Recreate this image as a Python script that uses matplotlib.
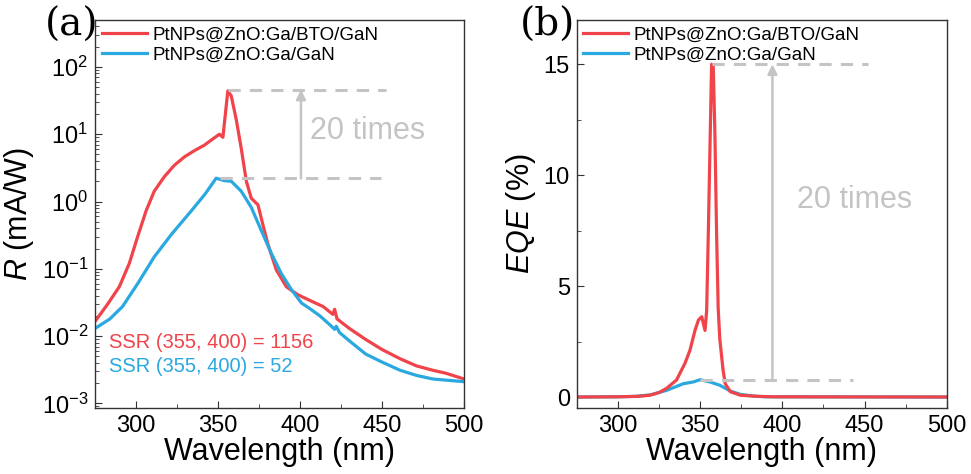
import matplotlib
matplotlib.use("Agg")
import matplotlib.pyplot as plt

plt.rcParams['font.family'] = ['Liberation Sans', 'DejaVu Sans']
plt.rcParams['mathtext.fontset'] = 'custom'
plt.rcParams['mathtext.rm'] = 'Liberation Sans'
plt.rcParams['mathtext.it'] = 'Liberation Sans:italic'

RED = '#f0434a'
BLUE = '#2aa8e0'
GRAY = '#c4c4c4'
labels = ['PtNPs@ZnO:Ga/BTO/GaN', 'PtNPs@ZnO:Ga/GaN']

# (a) responsivity, mA/W
wl_r_red = [275, 282.5, 289.7, 295.8, 300.9, 306, 311, 317.2, 323.3, 329.4, 335.5, 341.7,
            346.7, 350.8, 352.9, 355.9, 358, 361, 364.1, 367.2, 370.2, 374.3, 377.3,
            380.4, 385.5, 391.6, 398.7, 406.9, 414, 420, 421, 422.5, 430, 440, 450, 461,
            471, 481, 489, 500]
r_red = [0.0166, 0.0296, 0.054, 0.12, 0.30, 0.72, 1.42, 2.34, 3.46, 4.6, 5.7, 6.9,
         8.5, 10, 9.0, 44, 37, 16.7, 6.1, 2.0, 1.12, 0.89, 0.45,
         0.23, 0.096, 0.054, 0.041, 0.033, 0.0275, 0.021, 0.025, 0.018, 0.013, 0.0089, 0.0063, 0.0046,
         0.0036, 0.0031, 0.0028, 0.0023]

wl_r_blue = [275, 284, 291.7, 300.9, 311, 321.3, 333.5, 341.7, 348.8, 353.9, 358, 364.1,
             370.2, 376.3, 382.4, 388.5, 394.7, 400.8, 406, 412, 418, 421, 422, 424, 430,
             440, 450, 461, 471, 481, 500]
r_blue = [0.013, 0.018, 0.0275, 0.06, 0.15, 0.32, 0.72, 1.26, 2.22, 2.04, 2.0, 1.42,
          0.82, 0.37, 0.17, 0.085, 0.049, 0.031, 0.0255, 0.02, 0.0148, 0.0126, 0.014, 0.0113, 0.0085,
          0.0054, 0.0041, 0.0031, 0.0026, 0.0023, 0.0021]

# (b) EQE, %
wl_e_red = [275, 300, 312, 319.4, 325, 329.6, 335.7, 340.8, 343.8, 346.9, 349, 351, 353,
            354, 355, 357, 358, 359, 360, 361, 362, 363, 364, 365.3, 368.4, 374.5, 385, 395, 500]
eqe_red = [0.0, 0.01, 0.03, 0.08, 0.2, 0.39, 0.77, 1.52, 2.1, 3.0, 3.47, 3.62, 3.0,
           3.9, 7.4, 15.0, 14.9, 11.9, 7.5, 4.0, 2.6, 1.9, 1.2, 0.6, 0.24, 0.08, 0.03, 0.01, 0.0]

wl_e_blue = [275, 300, 311, 320, 329.6, 339.8, 345.9, 350, 356, 362, 368.4, 374.5,
             382.6, 390, 500]
eqe_blue = [0.0, 0.01, 0.03, 0.1, 0.3, 0.6, 0.68, 0.78, 0.68, 0.53, 0.27, 0.12,
            0.04, 0.01, 0.0]

fig = plt.figure(figsize=(9.71, 4.74), dpi=100)
ax1 = fig.add_axes([0.098, 0.139, 0.380, 0.819])
ax2 = fig.add_axes([0.594, 0.139, 0.381, 0.819])

for ax in (ax1, ax2):
    for s in ax.spines.values():
        s.set_color('#333333')
        s.set_linewidth(1.0)
    ax.tick_params(which='both', direction='in', color='#333333', labelsize=17, pad=5)
    ax.tick_params(which='major', length=5)
    ax.tick_params(which='minor', length=3)
    ax.set_xlim(275, 500)
    ax.set_xticks([300, 350, 400, 450, 500])
    ax.set_xticks([325, 375, 425, 475], minor=True)
    ax.set_xlabel('Wavelength (nm)', fontsize=22, labelpad=0)

# panel (a)
ax1.semilogy(wl_r_red, r_red, color=RED, lw=2.3, label=labels[0])
ax1.semilogy(wl_r_blue, r_blue, color=BLUE, lw=2.3, label=labels[1])
ax1.set_ylim(8.5e-4, 5e2)
ax1.set_yticks([1e-3, 1e-2, 1e-1, 1e0, 1e1, 1e2])
ax1.set_ylabel('$R$ (mA/W)', fontsize=22, labelpad=4)
ax1.plot([356, 452.5], [46, 46], color=GRAY, lw=2.2, ls=(0, (4, 3)))
ax1.plot([351, 449], [2.2, 2.2], color=GRAY, lw=2.2, ls=(0, (4, 3)))
ax1.annotate('', xy=(400.5, 46), xytext=(400.5, 2.2),
             arrowprops=dict(arrowstyle='-|>', color=GRAY, lw=1.8, mutation_scale=14,
                             shrinkA=0, shrinkB=0))
ax1.text(441, 11, '20 times', color=GRAY, fontsize=22, ha='center', va='center')
ax1.text(283.5, 0.0079, 'SSR (355, 400) = 1156', color=RED, fontsize=14.5, va='center')
ax1.text(283.5, 0.0035, 'SSR (355, 400) = 52', color=BLUE, fontsize=14.5, va='center')
ax1.legend(loc='upper left', bbox_to_anchor=(0.0, 1.0), frameon=False, fontsize=13.5,
           handlelength=2.4, handletextpad=0.3, labelspacing=0.15, borderaxespad=0.15,
           borderpad=0.2)

# panel (b)
ax2.plot(wl_e_blue, eqe_blue, color=BLUE, lw=2.3, label=labels[1])
ax2.plot(wl_e_red, eqe_red, color=RED, lw=2.3, label=labels[0])
ax2.set_ylim(-0.5, 17)
ax2.set_yticks([0, 5, 10, 15])
ax2.set_yticks([2.5, 7.5, 12.5], minor=True)
ax2.set_ylabel('$EQE$ (%)', fontsize=22, labelpad=4)
ax2.plot([357, 452], [15, 15], color=GRAY, lw=2.2, ls=(0, (4, 3)))
ax2.plot([350, 443], [0.78, 0.78], color=GRAY, lw=2.2, ls=(0, (4, 3)))
ax2.annotate('', xy=(394, 15), xytext=(394, 0.78),
             arrowprops=dict(arrowstyle='-|>', color=GRAY, lw=1.8, mutation_scale=14,
                             shrinkA=0, shrinkB=0))
ax2.text(444, 8.9, '20 times', color=GRAY, fontsize=22, ha='center', va='center')
h, l = ax2.get_legend_handles_labels()
ax2.legend(h[::-1], l[::-1], loc='upper left', bbox_to_anchor=(0.0, 1.0), frameon=False,
           fontsize=13.5, handlelength=2.4, handletextpad=0.3, labelspacing=0.15,
           borderaxespad=0.15, borderpad=0.2)

fig.text(0.046, 0.947, '(a)', family='serif', fontsize=28, ha='left', va='center')
fig.text(0.535, 0.947, '(b)', family='serif', fontsize=28, ha='left', va='center')

fig.savefig('out.png', dpi=100)
